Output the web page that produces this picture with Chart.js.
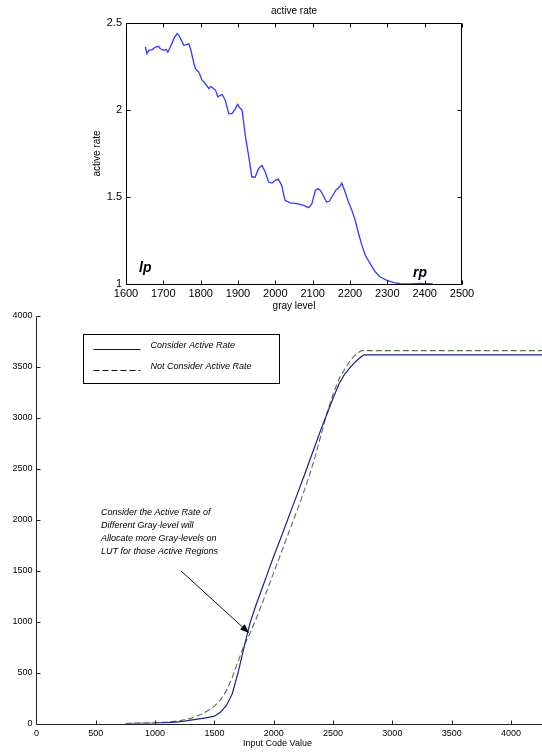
<!DOCTYPE html>
<html>
<head>
<meta charset="utf-8">
<script src="https://cdn.jsdelivr.net/npm/chart.js@4.4.1/dist/chart.umd.min.js"></script>
<style>
  html, body { margin: 0; padding: 0; background: #fff; }
  #wrap { position: relative; width: 542px; height: 754px; overflow: hidden; background: #fff; }
  #rateBox { position: absolute; left: 0; top: 0; width: 542px; height: 312px; }
  #lutBox { position: absolute; left: 0; top: 305px; width: 542px; height: 449px; }
</style>
</head>
<body>
<div id="wrap">
  <div id="rateBox"><canvas id="rateChart"></canvas></div>
  <div id="lutBox"><canvas id="lutChart"></canvas></div>
</div>
<script>
// ---- Active rate of each gray level ----
const grayLevels = [1652,1656,1661,1670,1679,1687,1692,1701,1708,1712,1719,1728,1737,1742,1746,1755,1764,1768,1773,1782,1786,1795,1804,1809,1818,1822,1827,1834,1840,1846,1853,1858,1866,1875,1884,1893,1899,1905,1911,1920,1929,1937,1946,1955,1964,1973,1982,1991,2000,2008,2017,2026,2040,2058,2076,2089,2098,2107,2114,2121,2128,2137,2145,2154,2163,2172,2178,2187,2196,2205,2214,2223,2232,2241,2254,2268,2281,2299,2317,2335,2362,2388,2422];
const activeRates = [2.362,2.324,2.343,2.347,2.362,2.366,2.352,2.343,2.347,2.333,2.362,2.41,2.439,2.429,2.41,2.372,2.377,2.381,2.352,2.266,2.238,2.218,2.17,2.161,2.136,2.123,2.136,2.123,2.113,2.075,2.085,2.088,2.056,1.979,1.979,2.008,2.033,2.013,1.998,1.845,1.73,1.615,1.615,1.663,1.682,1.644,1.586,1.58,1.596,1.603,1.567,1.481,1.466,1.462,1.452,1.439,1.462,1.538,1.548,1.538,1.51,1.471,1.477,1.51,1.542,1.557,1.58,1.529,1.471,1.423,1.366,1.289,1.222,1.165,1.117,1.069,1.04,1.021,1.008,1.002,1.0,1.004,1.0];
const grayTickValues = [1600,1700,1800,1900,2000,2100,2200,2300,2400,2500];
const rateTickValues = [1, 1.5, 2, 2.5];
const pointMarks = [{ text: 'lp', x: 1635, y: 1.067 }, { text: 'rp', x: 2369, y: 1.04 }];

// ---- LUT output for each input code value ----
const inputCodes = [750,1000,1100,1200,1300,1400,1450,1500,1550,1600,1650,1700,1750,1800,1850,1900,1950,2000,2050,2100,2150,2200,2250,2300,2350,2400,2450,2500,2550,2600,2650,2700,2740,2760,4261];
const lutConsider = [0,3,8,15,34,50,60,72,110,175,290,500,750,985,1160,1320,1480,1640,1790,1945,2100,2255,2410,2570,2730,2890,3040,3190,3330,3430,3500,3560,3600,3615,3615];
const lutNotConsider = [0,8,15,25,50,95,130,170,230,320,450,610,765,885,1020,1170,1325,1480,1635,1790,1945,2100,2260,2430,2620,2835,3050,3230,3380,3480,3570,3630,3657,3657,3657];
const codeTickValues = [0,500,1000,1500,2000,2500,3000,3500,4000];
const outTickValues = [0,500,1000,1500,2000,2500,3000,3500,4000];
const seriesNames = ['Consider Active Rate', 'Not Consider Active Rate'];
const noteLines = ['Consider the Active Rate of', 'Different Gray-level will', 'Allocate more Gray-levels on', 'LUT for those Active Regions'];

Chart.defaults.font.family = '"Liberation Sans", Arial, Helvetica, sans-serif';
Chart.defaults.color = '#000';
Chart.defaults.animation = false;

// Inward tick marks and axis frame in the MATLAB style
const frameTicks = {
  id: 'frameTicks',
  afterDraw(chart, args, opts) {
    const { ctx, chartArea: a, scales } = chart;
    const len = opts.len || 4;
    const sx = scales.x, sy = scales.y;
    const L = Math.round(a.left) + 0.5, R = Math.round(a.right) - 0.5;
    const T = Math.round(a.top) + 0.5, B = Math.round(a.bottom) + 0.5;
    ctx.save();
    ctx.strokeStyle = opts.color || '#000';
    ctx.lineWidth = opts.width || 1;
    ctx.beginPath();
    sx.ticks.forEach(t => {
      const px = Math.round(sx.getPixelForValue(t.value)) + 0.5;
      ctx.moveTo(px, B); ctx.lineTo(px, B - len);
      if (opts.box) { ctx.moveTo(px, T); ctx.lineTo(px, T + len); }
    });
    sy.ticks.forEach(t => {
      const py = Math.round(sy.getPixelForValue(t.value)) + 0.5;
      ctx.moveTo(L, py); ctx.lineTo(L + len, py);
      if (opts.box) { ctx.moveTo(R, py); ctx.lineTo(R - len, py); }
    });
    // axes
    ctx.moveTo(L, T); ctx.lineTo(L, B); ctx.lineTo(opts.box ? R : a.right, B);
    if (opts.box) { ctx.lineTo(R, T); ctx.lineTo(L, T); }
    ctx.stroke();
    ctx.restore();
  }
};

// "lp" / "rp" markers on the active rate plot
const endLabels = {
  id: 'endLabels',
  afterDraw(chart) {
    const { ctx, scales } = chart;
    ctx.save();
    ctx.font = 'italic bold 14px "Liberation Sans", Arial, sans-serif';
    ctx.fillStyle = '#000';
    ctx.textBaseline = 'alphabetic';
    pointMarks.forEach(m => {
      ctx.fillText(m.text, scales.x.getPixelForValue(m.x), scales.y.getPixelForValue(m.y));
    });
    ctx.restore();
  }
};

new Chart(document.getElementById('rateChart'), {
  type: 'line',
  data: {
    datasets: [{
      label: 'active rate',
      data: grayLevels.map((g, i) => ({ x: g, y: activeRates[i] })),
      borderColor: '#2f3cff',
      borderWidth: 1.3,
      pointRadius: 0,
      tension: 0,
      fill: false
    }]
  },
  options: {
    responsive: true,
    maintainAspectRatio: false,
    layout: { padding: { left: 0, right: 80, top: 0, bottom: 0 } },
    plugins: {
      legend: { display: false },
      tooltip: { enabled: false },
      title: {
        display: true, text: 'active rate', fullSize: false,
        font: { size: 10, weight: 'normal' }, color: '#000',
        padding: { top: 5, bottom: 6 }
      },
      frameTicks: { box: true, len: 4 }
    },
    scales: {
      x: {
        type: 'linear', min: 1600, max: 2500,
        afterBuildTicks(scale) { scale.ticks = grayTickValues.map(v => ({ value: v })); },
        afterFit(scale) { scale.height = 28; },
        grid: { display: false, drawTicks: false },
        border: { display: false },
        ticks: { autoSkip: false, maxRotation: 0, padding: 3, font: { size: 11 }, callback: v => String(v) },
        title: { display: true, text: 'gray level', font: { size: 10 }, padding: { top: 0, bottom: 0 } }
      },
      y: {
        type: 'linear', min: 1, max: 2.5,
        afterBuildTicks(scale) { scale.ticks = rateTickValues.map(v => ({ value: v })); },
        afterFit(scale) { scale.width = 126; },
        grid: { display: false, drawTicks: false },
        border: { display: false },
        ticks: { padding: 4, font: { size: 11 }, callback: v => String(v) },
        title: { display: true, text: 'active rate', font: { size: 10 }, padding: { top: 91, bottom: 0 } }
      }
    }
  },
  plugins: [frameTicks, endLabels]
});

// Legend box, note text, arrow and axis caption of the LUT plot
const lutDecor = {
  id: 'lutDecor',
  afterDraw(chart) {
    const { ctx, scales } = chart;
    const sx = scales.x, sy = scales.y;
    const ds = chart.data.datasets;
    ctx.save();
    // legend
    const lx = Math.round(sx.getPixelForValue(393)) + 0.5;
    const ly = Math.round(sy.getPixelForValue(3820)) + 0.5;
    ctx.strokeStyle = '#000';
    ctx.lineWidth = 1;
    ctx.strokeRect(lx, ly, 196, 49);
    ctx.font = 'italic 9px "Liberation Sans", Arial, sans-serif';
    ctx.fillStyle = '#000';
    ctx.textBaseline = 'middle';
    ds.forEach((d, i) => {
      const yy = ly + 14 + i * 21;
      ctx.save();
      ctx.setLineDash(d.borderDash || []);
      ctx.strokeStyle = '#111';
      ctx.beginPath();
      ctx.moveTo(lx + 10, Math.round(yy) + 0.5);
      ctx.lineTo(lx + 57, Math.round(yy) + 0.5);
      ctx.stroke();
      ctx.restore();
      ctx.fillText(d.label, lx + 67, yy - 3);
    });
    // note
    const nx = sx.getPixelForValue(544);
    const ny = sy.getPixelForValue(2065);
    noteLines.forEach((t, i) => ctx.fillText(t, nx, ny + i * 13));
    // arrow
    const x0 = sx.getPixelForValue(1219), y0 = sy.getPixelForValue(1496);
    const x1 = sx.getPixelForValue(1792), y1 = sy.getPixelForValue(888);
    const ang = Math.atan2(y1 - y0, x1 - x0);
    ctx.strokeStyle = '#111';
    ctx.lineWidth = 1;
    ctx.beginPath();
    ctx.moveTo(x0, y0); ctx.lineTo(x1 - 6 * Math.cos(ang), y1 - 6 * Math.sin(ang));
    ctx.stroke();
    ctx.fillStyle = '#000';
    ctx.beginPath();
    ctx.moveTo(x1, y1);
    ctx.lineTo(x1 - 9 * Math.cos(ang) + 3.5 * Math.sin(ang), y1 - 9 * Math.sin(ang) - 3.5 * Math.cos(ang));
    ctx.lineTo(x1 - 9 * Math.cos(ang) - 3.5 * Math.sin(ang), y1 - 9 * Math.sin(ang) + 3.5 * Math.cos(ang));
    ctx.closePath();
    ctx.fill();
    // x axis caption
    ctx.font = '9px "Liberation Sans", Arial, sans-serif';
    ctx.textAlign = 'center';
    ctx.fillText('Input Code Value', sx.getPixelForValue(2032), chart.height - 10);
    ctx.restore();
  }
};

new Chart(document.getElementById('lutChart'), {
  type: 'line',
  data: {
    datasets: [{
      label: seriesNames[0],
      data: inputCodes.map((c, i) => ({ x: c, y: lutConsider[i] })),
      borderColor: '#1c1f8e',
      borderWidth: 1.2,
      pointRadius: 0,
      tension: 0,
      fill: false
    }, {
      label: seriesNames[1],
      data: inputCodes.map((c, i) => ({ x: c, y: lutNotConsider[i] })),
      borderColor: '#5b6f52',
      borderWidth: 1.1,
      borderDash: [6, 3],
      pointRadius: 0,
      tension: 0,
      fill: false
    }]
  },
  options: {
    responsive: true,
    maintainAspectRatio: false,
    layout: { padding: { left: 0, right: 0, top: 10.7, bottom: 0 } },
    plugins: {
      legend: { display: false },
      tooltip: { enabled: false },
      frameTicks: { box: false, len: 4, color: '#222' }
    },
    scales: {
      x: {
        type: 'linear', min: 0, max: 4261,
        afterBuildTicks(scale) { scale.ticks = codeTickValues.map(v => ({ value: v })); },
        ticks: { autoSkip: false, maxRotation: 0, padding: 5, font: { size: 9 }, callback: v => String(v) },
        afterFit(scale) { scale.height = 30.5; },
        grid: { display: false, drawTicks: false },
        border: { display: false }
      },
      y: {
        type: 'linear', min: 0, max: 4000,
        afterBuildTicks(scale) { scale.ticks = outTickValues.map(v => ({ value: v })); },
        ticks: { padding: 4, font: { size: 9 }, callback: v => String(v) },
        afterFit(scale) { scale.width = 36.4; },
        grid: { display: false, drawTicks: false },
        border: { display: false }
      }
    }
  },
  plugins: [frameTicks, lutDecor]
});
</script>
</body>
</html>
